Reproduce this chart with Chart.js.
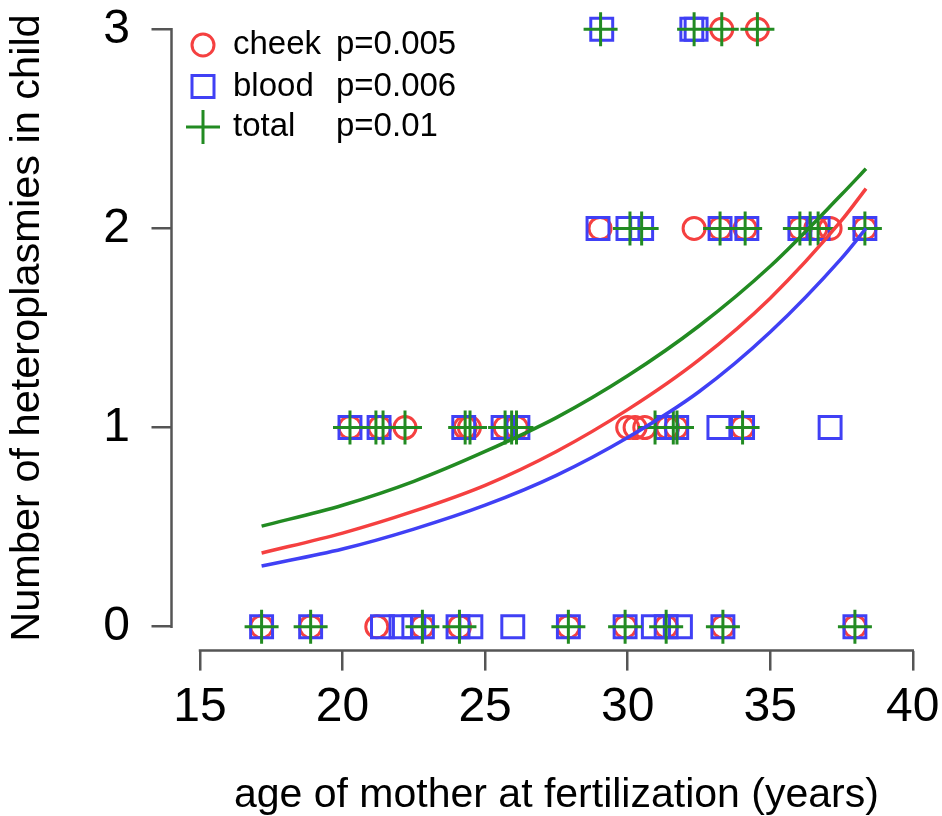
<!DOCTYPE html>
<html>
<head>
<meta charset="utf-8">
<script src="https://cdn.jsdelivr.net/npm/chart.js@4.4.1/dist/chart.umd.min.js"></script>
<style>
html,body{margin:0;padding:0;background:#ffffff;}
#wrap{width:942px;height:816px;position:relative;}
canvas{display:block;}
</style>
</head>
<body>
<div id="wrap"><canvas id="c" width="942" height="816"></canvas></div>
<script>
const FONT = "'Liberation Sans', Arial, Helvetica, sans-serif";
const RED = '#f54040';
const BLUE = '#4040f5';
const GREEN = '#228b22';
const AXIS = '#555555';

const xTicks = [15, 20, 25, 30, 35, 40];
const yTicks = [0, 1, 2, 3];
const xTitle = 'age of mother at fertilization (years)';
const yTitle = 'Number of heteroplasmies in child';

// cheek (circles)
const cheekX = [17.16, 18.88, 21.2, 22.8, 24.1, 27.92, 29.91, 31.35, 33.34, 37.97,
                20.26, 21.3, 22.19, 24.3, 24.45, 25.7, 26.1, 30.0, 30.26, 30.6, 31.4, 31.7, 34.03,
                29.03, 32.33, 33.24, 34.12, 36.05, 36.6, 37.1, 38.32,
                33.3, 34.55];
const cheekY = [0, 0, 0, 0, 0, 0, 0, 0, 0, 0,
                1, 1, 1, 1, 1, 1, 1, 1, 1, 1, 1, 1, 1,
                2, 2, 2, 2, 2, 2, 2, 2,
                3, 3];

// blood (squares)
const bloodX = [17.16, 18.88, 21.4, 22.05, 22.5, 22.8, 24.05, 24.5, 25.97, 27.92, 29.91, 30.9, 31.35, 31.85, 33.34, 37.97,
                20.26, 21.28, 24.25, 25.63, 26.15, 31.37, 31.72, 33.2, 34.03, 37.1,
                28.96, 30.01, 30.49, 33.24, 34.18, 36.04, 36.68, 38.32,
                29.09, 32.25, 32.4];
const bloodY = [0, 0, 0, 0, 0, 0, 0, 0, 0, 0, 0, 0, 0, 0, 0, 0,
                1, 1, 1, 1, 1, 1, 1, 1, 1, 1,
                2, 2, 2, 2, 2, 2, 2, 2,
                3, 3, 3];

// total (plus)
const totalX = [17.16, 18.88, 22.8, 24.1, 27.92, 29.91, 31.35, 33.34, 37.97,
                20.26, 21.17, 21.42, 22.19, 24.3, 24.47, 25.7, 25.93, 26.1, 30.96, 31.6, 31.73, 34.03,
                30.08, 30.49, 33.24, 34.12, 36.04, 36.4, 36.68, 38.32,
                29.05, 32.33, 33.3, 34.55];
const totalY = [0, 0, 0, 0, 0, 0, 0, 0, 0,
                1, 1, 1, 1, 1, 1, 1, 1, 1, 1, 1, 1, 1,
                2, 2, 2, 2, 2, 2, 2, 2,
                3, 3, 3, 3];

// fitted curves
const curveX   = [17.16, 20, 22.5, 25, 27.5, 30, 32.5, 35, 37.5, 38.36];
const cheekFit = [0.37, 0.47, 0.58, 0.71, 0.88, 1.09, 1.34, 1.65, 2.04, 2.20];
const bloodFit = [0.305, 0.39, 0.49, 0.61, 0.76, 0.95, 1.18, 1.48, 1.85, 2.00];
const totalFit = [0.505, 0.61, 0.73, 0.88, 1.05, 1.26, 1.51, 1.81, 2.17, 2.30];

const legendNames = ['cheek', 'blood', 'total'];
const legendP = ['p=0.005', 'p=0.006', 'p=0.01'];

function pts(xs, ys) { return xs.map((x, i) => ({ x: x, y: ys[i] })); }

const axisLines = {
  id: 'axisLines',
  afterDraw(chart) {
    const { ctx, chartArea } = chart;
    const x = chart.scales.x, y = chart.scales.y;
    ctx.save();
    ctx.strokeStyle = AXIS;
    ctx.lineWidth = 2.5;
    ctx.lineCap = 'square';
    ctx.beginPath();
    ctx.moveTo(x.getPixelForValue(xTicks[0]), chartArea.bottom);
    ctx.lineTo(x.getPixelForValue(xTicks[xTicks.length - 1]), chartArea.bottom);
    ctx.moveTo(chartArea.left, y.getPixelForValue(yTicks[0]));
    ctx.lineTo(chartArea.left, y.getPixelForValue(yTicks[yTicks.length - 1]));
    ctx.stroke();
    ctx.restore();
  }
};

const legendBox = {
  id: 'legendBox',
  afterDraw(chart) {
    const ctx = chart.ctx;
    const rows = [45, 86.5, 127];
    const sx = 203;
    ctx.save();
    ctx.lineWidth = 3;
    ctx.strokeStyle = RED;
    ctx.beginPath(); ctx.arc(sx, rows[0], 11, 0, Math.PI * 2); ctx.stroke();
    ctx.strokeStyle = BLUE;
    ctx.beginPath(); ctx.rect(sx - 11, rows[1] - 11, 22, 22); ctx.stroke();
    ctx.strokeStyle = GREEN;
    ctx.beginPath();
    ctx.moveTo(sx - 17, rows[2]); ctx.lineTo(sx + 17, rows[2]);
    ctx.moveTo(sx, rows[2] - 17); ctx.lineTo(sx, rows[2] + 17);
    ctx.stroke();
    ctx.fillStyle = '#000';
    ctx.font = '33px ' + FONT;
    ctx.textBaseline = 'middle';
    ctx.textAlign = 'left';
    for (let i = 0; i < 3; i++) {
      ctx.fillText(legendNames[i], 233, rows[i]);
      ctx.fillText(legendP[i], 336, rows[i]);
    }
    ctx.restore();
  }
};

const scatterCommon = { showLine: false, backgroundColor: 'rgba(0,0,0,0)', pointBackgroundColor: 'rgba(0,0,0,0)', pointBorderWidth: 3, pointHoverRadius: 0 };
const lineCommon = { showLine: true, pointRadius: 0, borderWidth: 3.5, fill: false, cubicInterpolationMode: 'monotone' };

new Chart(document.getElementById('c'), {
  type: 'scatter',
  data: {
    datasets: [
      Object.assign({ label: 'total fit', data: pts(curveX, totalFit), borderColor: GREEN, order: 1 }, lineCommon),
      Object.assign({ label: 'cheek fit', data: pts(curveX, cheekFit), borderColor: RED, order: 2 }, lineCommon),
      Object.assign({ label: 'blood fit', data: pts(curveX, bloodFit), borderColor: BLUE, order: 3 }, lineCommon),
      Object.assign({ label: 'total', data: pts(totalX, totalY), pointStyle: 'cross', pointRadius: 17, borderColor: GREEN, pointBorderColor: GREEN, order: 4 }, scatterCommon),
      Object.assign({ label: 'blood', data: pts(bloodX, bloodY), pointStyle: 'rect', pointRadius: 15.5, borderColor: BLUE, pointBorderColor: BLUE, order: 5 }, scatterCommon),
      Object.assign({ label: 'cheek', data: pts(cheekX, cheekY), pointStyle: 'circle', pointRadius: 11, borderColor: RED, pointBorderColor: RED, order: 6 }, scatterCommon)
    ]
  },
  options: {
    responsive: false,
    animation: false,
    devicePixelRatio: 1,
    events: [],
    layout: { autoPadding: false, padding: { top: 5.4, right: 0.7, left: 0, bottom: 0 } },
    plugins: { legend: { display: false }, tooltip: { enabled: false } },
    scales: {
      x: {
        type: 'linear', min: 14, max: 41,
        afterBuildTicks: s => { s.ticks = xTicks.map(v => ({ value: v })); },
        afterFit: s => { s.height = 165.4; s.paddingLeft = 0; s.paddingRight = 0; },
        grid: { display: true, drawOnChartArea: false, drawTicks: true, tickLength: 20, color: AXIS, lineWidth: 2.5 },
        border: { display: false },
        ticks: { color: '#000', font: { size: 48, family: FONT, lineHeight: 1 }, padding: 13.6, maxRotation: 0, autoSkip: false },
        title: { display: true, text: xTitle, color: '#000', font: { size: 41, family: FONT, lineHeight: 1 }, padding: { top: 0, bottom: 0 } }
      },
      y: {
        type: 'linear', min: -0.12, max: 3.12,
        afterBuildTicks: s => { s.ticks = yTicks.map(v => ({ value: v })); },
        afterFit: s => { s.width = 171.5; s.paddingTop = 0; s.paddingBottom = 0; },
        grid: { display: true, drawOnChartArea: false, drawTicks: true, tickLength: 20, color: AXIS, lineWidth: 2.5 },
        border: { display: false },
        ticks: { color: '#000', font: { size: 48, family: FONT, lineHeight: 1 }, padding: 21.5, autoSkip: false },
        title: { display: true, text: yTitle, color: '#000', font: { size: 41.5, family: FONT, lineHeight: 1 }, padding: { top: 7, bottom: 0 } }
      }
    }
  },
  plugins: [axisLines, legendBox]
});
</script>
</body>
</html>
